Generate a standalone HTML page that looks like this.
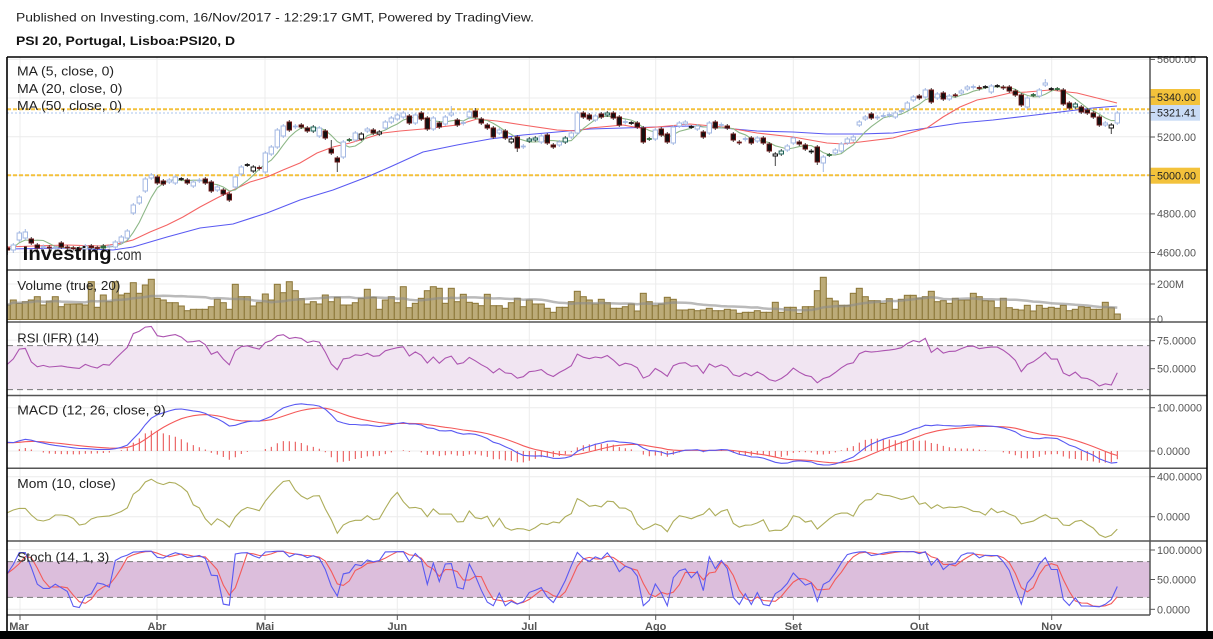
<!DOCTYPE html>
<html><head><meta charset="utf-8">
<style>
html,body{margin:0;padding:0;background:#fff;width:1213px;height:639px;overflow:hidden}
svg{display:block}
text{font-family:"Liberation Sans",Arial,sans-serif}
</style></head><body>
<svg id="s" width="1213" height="639" viewBox="0 0 1213 639" xmlns="http://www.w3.org/2000/svg">
<defs>
<clipPath id="cm"><rect x="7" y="57" width="1143" height="213"/></clipPath>
<clipPath id="cv"><rect x="7" y="270" width="1143" height="52"/></clipPath>
<clipPath id="cr"><rect x="7" y="322" width="1143" height="73.5"/></clipPath>
<clipPath id="cd"><rect x="7" y="395.5" width="1143" height="72.8"/></clipPath>
<clipPath id="co"><rect x="7" y="468.3" width="1143" height="72.7"/></clipPath>
<clipPath id="cs"><rect x="7" y="541" width="1143" height="74"/></clipPath>
</defs>
<rect width="1213" height="639" fill="#fff"/>
<g stroke="#ececec" stroke-width="1">
<line x1="7" y1="59.4" x2="1150" y2="59.4"/><line x1="7" y1="98" x2="1150" y2="98"/><line x1="7" y1="136.7" x2="1150" y2="136.7"/><line x1="7" y1="175.3" x2="1150" y2="175.3"/><line x1="7" y1="213.9" x2="1150" y2="213.9"/><line x1="7" y1="252.5" x2="1150" y2="252.5"/>
<line x1="7" y1="284" x2="1150" y2="284"/><line x1="7" y1="319" x2="1150" y2="319"/>
<line x1="7" y1="340.1" x2="1150" y2="340.1"/><line x1="7" y1="367.6" x2="1150" y2="367.6"/>
<line x1="7" y1="407.7" x2="1150" y2="407.7"/><line x1="7" y1="451" x2="1150" y2="451"/>
<line x1="7" y1="476.7" x2="1150" y2="476.7"/><line x1="7" y1="516.7" x2="1150" y2="516.7"/>
<line x1="7" y1="549.6" x2="1150" y2="549.6"/><line x1="7" y1="579.5" x2="1150" y2="579.5"/><line x1="7" y1="609.3" x2="1150" y2="609.3"/>
<line x1="20" y1="57" x2="20" y2="615"/><line x1="157" y1="57" x2="157" y2="615"/><line x1="265" y1="57" x2="265" y2="615"/><line x1="397.3" y1="57" x2="397.3" y2="615"/><line x1="529.3" y1="57" x2="529.3" y2="615"/><line x1="655.7" y1="57" x2="655.7" y2="615"/><line x1="793.3" y1="57" x2="793.3" y2="615"/><line x1="919.3" y1="57" x2="919.3" y2="615"/><line x1="1051.7" y1="57" x2="1051.7" y2="615"/>
</g>
<rect x="7" y="345.6" width="1143" height="44" fill="#f1e5f2"/>
<rect x="7" y="561.6" width="1143" height="35.8" fill="#dcbedc"/>
<g stroke="#777" stroke-width="1" stroke-dasharray="6,4">
<line x1="7" y1="345.6" x2="1150" y2="345.6"/><line x1="7" y1="389.6" x2="1150" y2="389.6"/>
<line x1="7" y1="561.6" x2="1150" y2="561.6"/><line x1="7" y1="597.4" x2="1150" y2="597.4"/>
</g>
<line x1="7" y1="109.3" x2="1150" y2="109.3" stroke="#f4c13c" stroke-width="2" stroke-dasharray="4,2"/>
<line x1="7" y1="175.3" x2="1150" y2="175.3" stroke="#f4c13c" stroke-width="2" stroke-dasharray="4,2"/>
<line x1="7" y1="113" x2="1150" y2="113" stroke="#abc4ee" stroke-width="1" stroke-dasharray="2,2"/>
<g id="dyn"></g>
<g fill="#111">
<text x="22.7" y="260" font-size="19" font-weight="bold" textLength="89" lengthAdjust="spacingAndGlyphs">Investing</text>
</g>
<text x="112.7" y="260" font-size="16" fill="#333" textLength="29" lengthAdjust="spacingAndGlyphs">.com</text>
<g fill="#222" font-size="12.5">
<text x="17" y="75.6" textLength="97" lengthAdjust="spacingAndGlyphs">MA (5, close, 0)</text>
<text x="17" y="93" textLength="105.5" lengthAdjust="spacingAndGlyphs">MA (20, close, 0)</text>
<text x="17" y="110" textLength="105" lengthAdjust="spacingAndGlyphs">MA (50, close, 0)</text>
<text x="17.3" y="290" textLength="103" lengthAdjust="spacingAndGlyphs">Volume (true, 20)</text>
<text x="17.3" y="342.3" textLength="81.7" lengthAdjust="spacingAndGlyphs">RSI (IFR) (14)</text>
<text x="17.3" y="414.6" textLength="148.4" lengthAdjust="spacingAndGlyphs">MACD (12, 26, close, 9)</text>
<text x="17.3" y="488" textLength="98.4" lengthAdjust="spacingAndGlyphs">Mom (10, close)</text>
<text x="17.3" y="561.3" textLength="92" lengthAdjust="spacingAndGlyphs">Stoch (14, 1, 3)</text>
</g>
<rect x="1150" y="57" width="57" height="574" fill="#fff"/>
<rect x="1150" y="89" width="50" height="16" fill="#f3c23b"/>
<rect x="1150" y="105" width="50" height="15.7" fill="#c9dbf5"/>
<rect x="1150" y="167.7" width="50" height="16" fill="#f3c23b"/>
<g fill="#555" font-size="10.8">
<text x="1157" y="63.2">5600.00</text>
<text x="1157" y="141">5200.00</text>
<text x="1157" y="217.7">4800.00</text>
<text x="1157" y="256.7">4600.00</text>
<text x="1157" y="287.9">200M</text>
<text x="1157" y="322.8">0</text>
<text x="1157" y="344.6">75.0000</text>
<text x="1157" y="372.6">50.0000</text>
<text x="1157" y="411.6">100.0000</text>
<text x="1157" y="454.9">0.0000</text>
<text x="1157" y="480.6">400.0000</text>
<text x="1157" y="520.6">0.0000</text>
<text x="1157" y="554">100.0000</text>
<text x="1157" y="583.3">50.0000</text>
<text x="1157" y="613.3">0.0000</text>
</g>
<g fill="#222" font-size="10.8">
<text x="1157" y="101">5340.00</text>
<text x="1157" y="116.7">5321.41</text>
<text x="1157" y="179.3">5000.00</text>
</g>
<rect x="1150" y="0" width="63" height="56" fill="#fff"/>
<g stroke="#555" stroke-width="1">
<line x1="1150" y1="59.4" x2="1155" y2="59.4"/><line x1="1150" y1="97" x2="1155" y2="97"/><line x1="1150" y1="112.5" x2="1155" y2="112.5"/><line x1="1150" y1="137" x2="1155" y2="137"/><line x1="1150" y1="175.5" x2="1155" y2="175.5"/><line x1="1150" y1="213.9" x2="1155" y2="213.9"/><line x1="1150" y1="252.5" x2="1155" y2="252.5"/>
<line x1="1150" y1="284" x2="1155" y2="284"/><line x1="1150" y1="319" x2="1155" y2="319"/>
<line x1="1150" y1="340.7" x2="1155" y2="340.7"/><line x1="1150" y1="368.7" x2="1155" y2="368.7"/>
<line x1="1150" y1="407.7" x2="1155" y2="407.7"/><line x1="1150" y1="451" x2="1155" y2="451"/>
<line x1="1150" y1="476.7" x2="1155" y2="476.7"/><line x1="1150" y1="516.7" x2="1155" y2="516.7"/>
<line x1="1150" y1="550" x2="1155" y2="550"/><line x1="1150" y1="579.5" x2="1155" y2="579.5"/><line x1="1150" y1="609.3" x2="1155" y2="609.3"/>
<line x1="20" y1="615" x2="20" y2="620"/><line x1="157" y1="615" x2="157" y2="620"/><line x1="265" y1="615" x2="265" y2="620"/><line x1="397.3" y1="615" x2="397.3" y2="620"/><line x1="529.3" y1="615" x2="529.3" y2="620"/><line x1="655.7" y1="615" x2="655.7" y2="620"/><line x1="793.3" y1="615" x2="793.3" y2="620"/><line x1="919.3" y1="615" x2="919.3" y2="620"/><line x1="1051.7" y1="615" x2="1051.7" y2="620"/>
</g>
<g stroke="#555" stroke-width="1.5">
<line x1="1150" y1="57" x2="1150" y2="615"/>
<line x1="7" y1="270" x2="1207" y2="270"/>
<line x1="7" y1="322" x2="1207" y2="322"/>
<line x1="7" y1="395.5" x2="1207" y2="395.5"/>
<line x1="7" y1="468.3" x2="1207" y2="468.3"/>
<line x1="7" y1="541" x2="1207" y2="541"/>
<line x1="7" y1="615" x2="1150" y2="615"/>
</g>
<g fill="#555" font-size="11" font-weight="bold" text-anchor="middle">
<text x="19" y="630">Mar</text><text x="157" y="630">Abr</text><text x="265" y="630">Mai</text><text x="397.3" y="630">Jun</text><text x="529.3" y="630">Jul</text><text x="655.7" y="630">Ago</text><text x="793.3" y="630">Set</text><text x="919.3" y="630">Out</text><text x="1051.7" y="630">Nov</text>
</g>
<g stroke="#000" stroke-width="1.6">
<line x1="7" y1="57" x2="1207" y2="57"/>
<line x1="7" y1="57" x2="7" y2="631"/>
<line x1="1207" y1="57" x2="1207" y2="631"/>
</g>
<rect x="0" y="631" width="1213" height="8" fill="#000"/>
<text x="16" y="21.7" font-size="12" fill="#222" textLength="518" lengthAdjust="spacingAndGlyphs">Published on Investing.com, 16/Nov/2017 - 12:29:17 GMT, Powered by TradingView.</text>
<text x="16" y="45" font-size="12" font-weight="bold" fill="#111" textLength="219" lengthAdjust="spacingAndGlyphs">PSI 20, Portugal, Lisboa:PSI20, D</text>
</svg>
<script>
(function(){
var C=[[248,250,'d'],[250,245,'u'],[240,233,'u'],[238,232,'u'],[239,243,'d'],[245,248,'d'],[247.5,246.5,'u'],[247,248,'d'],[248,247.5,'u'],[243,247,'d'],
[247,248,'d'],[248,248.5,'d'],[248.5,249,'d'],[249,246,'u'],[246,247.5,'d'],[247.5,248.5,'d'],[248,246,'g'],[246.5,246.5,'u'],[247,242,'u'],[242,237,'u'],
[238,231,'u'],[213,205,'u'],[203,197,'u'],[191,179,'u'],[178,175,'u'],[177,183,'d'],[181,184,'d'],[182,180,'u'],[183,177,'u'],[179,179,'c'],
[180,183,'d'],[186,182,'u'],[181,180,'u'],[179,183,'d'],[182,191,'d'],[190,187,'u'],[190,194,'d'],[194,200,'d'],[187,177,'u'],[174,167,'u'],
[165,165,'c'],[171,167,'w'],[167.5,168.5,'d'],[172,153,'u'],[154,147,'u'],[147,130,'u'],[136,126,'u'],[122,130,'d'],[127,126,'u'],[125,127,'d'],
[128,131,'d'],[131,127,'t'],[136,128,'u'],[131,138,'d'],[149,153,'d'],[158,162,'d'],[157,142,'u'],[140,140,'g'],[140,133,'u'],[139,134,'w'],
[131,129,'u'],[130,133,'d'],[134,132,'w'],[128,122,'u'],[122,118,'u'],[119,115,'u'],[117,113,'u'],[116,123,'d'],[123,115,'u'],[113,119,'d'],
[118,129,'d'],[129,118,'u'],[123,127,'d'],[124,117,'u'],[115,113,'u'],[120,125,'d'],[123.5,122.5,'u'],[117,112,'u'],[111,117,'d'],[119,123,'d'],
[125,128,'d'],[128,137,'d'],[133,130,'u'],[131,138,'d'],[142,139,'w'],[137,148,'d'],[147,146,'u'],[141,139,'t'],[140,138,'t'],[142,136,'u'],
[135,143,'d'],[145,147,'d'],[145,142,'u'],[142,138,'t'],[137,133,'u'],[133,113,'u'],[113,117,'d'],[115,119,'d'],[120,116,'u'],[114,117,'d'],
[115,113,'t'],[113,118,'d'],[117,125,'d'],[122.5,121.5,'u'],[123,123,'c'],[123,127,'d'],[128,142,'d'],[139,139,'g'],[139,130,'u'],[129,135,'d'],
[134,142,'d'],[143,127,'u'],[126,123,'u'],[124,122,'u'],[127,127,'c'],[129,126,'u'],[132,137,'d'],[133,123,'u'],[122,128,'d'],[125.5,124.5,'u'],
[126,128,'d'],[134,140,'d'],[142,143,'d'],[139.5,138.5,'u'],[138,143,'d'],[141,138,'u'],[138,143,'d'],[144,151,'d'],[156,154,'w'],[154,151,'t'],
[150,146,'u'],[143,138,'u'],[142,144,'d'],[145,149,'d'],[152,151,'w'],[147,162,'d'],[163,157,'u'],[155,155,'g'],[153,150,'u'],[151,144,'u'],
[143,139,'u'],[140,137,'u'],[125,122,'u'],[119,117,'u'],[114,118,'d'],[118,117,'u'],[116.5,115.5,'u'],[115.5,114.5,'u'],[117,113,'u'],[111.5,110.5,'u'],
[109,103,'u'],[100,97,'u'],[96,98,'d'],[97,90,'u'],[90,102,'d'],[98,94,'u'],[93,99,'d'],[99,96,'u'],[95,95.5,'d'],[93,91,'u'],
[89,87,'u'],[87.5,86.5,'u'],[87.5,88.5,'d'],[87,87,'c'],[92,86,'u'],[86,86,'c'],[87,88,'d'],[87,91,'d'],[91,95,'d'],[95,105,'d'],
[107,98,'u'],[95,95,'g'],[96,90,'u'],[85,83,'u'],[89,89,'c'],[89,89,'g'],[90,104,'d'],[103,108,'d'],[107,104,'t'],[107,112,'d'],
[110,113,'d'],[113,117,'d'],[117,125,'d'],[125,123,'u'],[128,125,'w'],[123,113,'u']];
var V=[305,300,303.3,301.7,300,296.7,305,301,296.7,306.7,304,304,304,305,281.7,307.3,295,301.7,281.7,295,
293.3,282.7,293.3,285,279.3,298.3,300,302.7,302.7,306,310.7,309.3,309.3,309.3,306.7,299.3,302.7,309.3,284.3,296.7,
296.7,306,302.7,294,300,284.3,292.7,281.7,290.7,298.7,304,301.7,304,295,301.7,297.3,305,305,302.7,298.3,
289.3,297.3,309.3,300,296.7,
302.7,286.7,307.7,303.3,298.3,290.7,286.7,288.3,303.3,288.3,
301.7,294.3,302.3,303.3,305.7,294.3,305.7,305.7,308.3,302.7,
298.3,306.7,300,304,304,308.3,312.3,307.3,307.3,301.7,
291.3,296.7,300,304,299.3,302.7,308.3,308.3,306.7,304,
311,293.3,301.7,305.7,304,297.3,299.3,310,310,309.3,
310.7,310,308.3,310.7,310.7,309.3,310,313.3,312.3,312.3,
310.7,312.3,312.3,302.3,312.3,307.3,
307.3,313.3,306.7,306.7,290.7,277.3,298.3,301,305.3,305.3,
293.3,288.3,296.7,300.7,300.7,303.3,298.7,309.3,299.3,295.3,
295.3,298,296.7,291.3,301.7,300.7,303.3,298.3,300,300,
293.3,296.7,300.7,301,307.7,298.3,307.7,309.3,310,305.3,
311,305.3,308.3,307.3,308.3,305.3,310.7,309.3,306.7,307.3,
309.3,309.3,302.3,307.7,314];
var MA20=[[7,247],[33,246],[67,245],[100,246],[117,244],[133,240],[150,232],[167,225],[183,217],[200,207],[217,198],[233,190],[250,182],[267,177],[283,170],[300,163],[317,153],[333,147],[350,143],[367,138],[383,133],[400,131],[423,129],[457,125],[477,119],[497,121],[523,125],[557,130],[577,131],[590,128],[623,125],[640,128],[657,127],[690,124],[723,127],[757,133],[793,137],[827,143],[843,144],[860,142],[893,138],[910,133],[927,128],[943,117],[960,107],[977,100],[993,97],[1010,93],[1027,92],[1050,90],[1077,93],[1093,97],[1117,103]];
var MA50=[[7,249],[67,248],[113,250],[133,247],[167,237],[200,228],[233,224],[267,213],[300,200],[333,190],[367,177],[390,167],[423,152],[457,145],[490,139],[523,135],[557,132],[590,129],[623,128],[657,127],[690,126],[723,128],[757,131],[793,132],[827,134],[860,134],[893,133],[927,128],[960,123],[993,120],[1027,116],[1060,112],[1093,108],[1117,106]];
var N=C.length;
function X(k){return 7.3+6*k;}
function P(y){return 5200+(136.7-y)/0.1932;}
var hiX={3:3,54:9,74:7,78:3,173:4,150:2,164:2,99:2};
var loX={0:5,1:3,55:10,85:4,128:10,136:9,184:6,135:3,169:2};
var hiY=[],loY=[],cY=[];
for(var k=0;k<N;k++){var o=C[k][0],c=C[k][1];cY.push(c);
 hiY.push(Math.min(o,c)-(hiX[k]!==undefined?hiX[k]:2));
 loY.push(Math.max(o,c)+(loX[k]!==undefined?loX[k]:2));}
var cl=cY.map(P);
function f(v){return v.toFixed(1);}
function path(arr,fy,col,w,extra){var d='';for(var i=0;i<arr.length;i++){if(arr[i]===null)continue;d+=(d?'L':'M')+f(X(i))+','+f(fy(arr[i]));}
 return '<path d="'+d+'" fill="none" stroke="'+col+'" stroke-width="'+w+'" '+(extra||'')+'/>';}
function poly(pts,col,w){return '<polyline points="'+pts.map(function(p){return p[0]+','+p[1];}).join(' ')+'" fill="none" stroke="'+col+'" stroke-width="'+w+'"/>';}
var s='';
// ---- main panel
s+='<g clip-path="url(#cm)">';
s+=poly(MA50,'#5a5af2',1.1);
s+=poly(MA20,'#f46464',1.1);
var ma5=[];for(k=0;k<N;k++){var a=Math.max(0,k-4),sm=0;for(var j=a;j<=k;j++)sm+=cY[j];ma5.push(sm/(k-a+1));}
s+=path(ma5,function(v){return v;},'#8db787',1.1);
var st={u:['#fff','#a3b8e3','#a3b8e3'],d:['#111','#6a1414','#444'],w:['#fff','#111','#444'],t:['#eaf5f2','#1d6258','#444'],g:['#2e6b3e','#2e6b3e','#444'],c:['#111','#111','#444']};
for(k=0;k<N;k++){var o=C[k][0],c=C[k][1],t=C[k][2],x=X(k),S=st[t],top=Math.min(o,c),h=Math.abs(o-c);
 s+='<line x1="'+f(x)+'" y1="'+f(hiY[k])+'" x2="'+f(x)+'" y2="'+f(loY[k])+'" stroke="'+S[2]+'" stroke-width="1"/>';
 if(h<1.5) s+='<line x1="'+f(x-2.5)+'" y1="'+f((o+c)/2)+'" x2="'+f(x+2.5)+'" y2="'+f((o+c)/2)+'" stroke="'+S[1]+'" stroke-width="1.8"/>';
 else s+='<rect x="'+f(x-2.2)+'" y="'+f(top)+'" width="4.4" height="'+f(h)+'" fill="'+S[0]+'" stroke="'+S[1]+'" stroke-width="1"/>';}
s+='</g>';
// ---- volume
s+='<g clip-path="url(#cv)">';
for(k=0;k<N&&k<V.length;k++){s+='<rect x="'+f(X(k)-3)+'" y="'+f(V[k])+'" width="6" height="'+f(319.5-V[k])+'" fill="#bcab78" stroke="#8b7536" stroke-width="1"/>';}
var vma=[];for(k=0;k<V.length;k++){var a=Math.max(0,k-19),sm=0;for(var j=a;j<=k;j++)sm+=319-V[j];vma.push(319-sm/(k-a+1));}
s+=path(vma,function(v){return v;},'rgba(140,140,140,0.6)',2.5);
s+='</g>';
// ---- RSI
var ag=9,al=8,rsi=[];
for(k=0;k<N;k++){if(k>0){var d=cl[k]-cl[k-1];ag=(ag*13+Math.max(d,0))/14;al=(al*13+Math.max(-d,0))/14;}rsi.push(100-100/(1+ag/al));}
s+='<g clip-path="url(#cr)">'+path(rsi,function(v){return 367.6-(v-50)*1.1;},'#ac54b0',1.1)+'</g>';
// ---- MACD
var e12=cl[0]+15,e26=cl[0]-5,sig=19,M=[],S2=[],H=[];
for(k=0;k<N;k++){if(k>0){e12+=(2/13)*(cl[k]-e12);e26+=(2/27)*(cl[k]-e26);}var m=e12-e26;if(k>0)sig+=(2/10)*(m-sig);M.push(m);S2.push(sig);H.push(m-sig);}
var my=function(v){return 451-v*0.433;};
s+='<g clip-path="url(#cd)">';
for(k=0;k<N;k++){var hv=H[k]*1.2;if(Math.abs(hv*0.433)<0.6)continue;s+='<line x1="'+f(X(k))+'" y1="451" x2="'+f(X(k))+'" y2="'+f(my(hv))+'" stroke="#e84848" stroke-width="1"/>';}
s+=path(S2,my,'#f45a5a',1.1)+path(M,my,'#5a5af2',1.1)+'</g>';
// ---- Mom
var mh=[40,67,83,83,17,-33,-43,-27,17,17],mom=[];
for(k=0;k<N;k++){mom.push(k<10?mh[k]:cl[k]-cl[k-10]);}
s+='<g clip-path="url(#co)">'+path(mom,function(v){return 516.7-v*0.1;},'#adad5a',1.1)+'</g>';
// ---- Stoch
var kh=[60,75,95,95,70,42,35,35,42,36,30,5,3,22,26,44,42,37],K=[],D=[];
for(k=0;k<N;k++){if(k<kh.length){K.push(kh[k]);continue;}
 var a=Math.max(0,k-13),hh=1e9,ll=-1e9;for(var j=a;j<=k;j++){if(hiY[j]<hh)hh=hiY[j];if(loY[j]>ll)ll=loY[j];}
 K.push(ll-hh>0?(ll-cY[k])/(ll-hh)*100:50);}
for(k=0;k<N;k++){var a=Math.max(0,k-2),sm=0;for(var j=a;j<=k;j++)sm+=K[j];D.push(sm/(k-a+1));}
var sy=function(v){return 609.3-v*0.5967;};
s+='<g clip-path="url(#cs)">'+path(D,sy,'#f45a5a',1.1)+path(K,sy,'#5a5af2',1.1)+'</g>';
document.getElementById('dyn').insertAdjacentHTML('beforeend',s);
})();
</script>
</body></html>
